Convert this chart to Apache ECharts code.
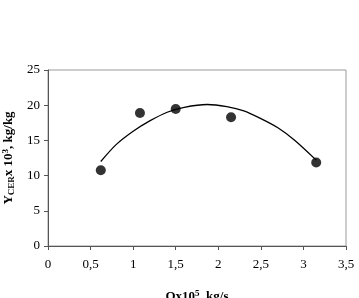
<!DOCTYPE html>
<html><head><meta charset="utf-8">
<script src="https://cdn.jsdelivr.net/npm/echarts@6/dist/echarts.min.js"></script>
<style>html,body{margin:0;padding:0;background:#fff}#c{width:359px;height:298px}</style>
</head><body><div id="c"></div>
<script>
// Measured points
const pointsX = [0.62, 1.08, 1.50, 2.15, 3.15];
const pointsY = [10.75, 18.9, 19.45, 18.3, 11.85];
// Trend curve
const curveX = [0.62, 0.8, 1.0, 1.2, 1.4, 1.6, 1.87, 2.1, 2.3, 2.5, 2.7, 2.9, 3.15];
const curveY = [12.0, 14.4, 16.3, 17.8, 19.0, 19.7, 20.1, 19.8, 19.2, 18.1, 16.8, 15.0, 12.2];
const xTicks = [0, 0.5, 1, 1.5, 2, 2.5, 3, 3.5];
const yTicks = [0, 5, 10, 15, 20, 25];

const font = '"Liberation Serif", "Times New Roman", serif';
const chart = echarts.init(document.getElementById('c'), null, {renderer: 'canvas'});
chart.setOption({
  animation: false,
  backgroundColor: '#fff',
  grid: {left: 48, right: 13, top: 70, bottom: 52, show: true, borderColor: '#9a9a9a', borderWidth: 1,
         containLabel: false, outerBoundsMode: 'none'},
  xAxis: {
    type: 'value', min: xTicks[0], max: xTicks[xTicks.length - 1], interval: 0.5,
    axisLine: {show: true, onZero: false, lineStyle: {color: '#555', width: 1}},
    axisTick: {show: true, inside: false, length: 4, lineStyle: {color: '#555'}},
    splitLine: {show: false},
    axisLabel: {fontFamily: font, fontSize: 13, color: '#000', margin: 12,
      formatter: v => String(v).replace('.', ',')},
    name: '{b|Qx10}{sup|5}{b|, kg/s}',
    nameLocation: 'middle', nameGap: 43,
    nameTextStyle: {rich: {
      b: {fontFamily: font, fontSize: 13, fontWeight: 'bold', color: '#000'},
      sup: {fontFamily: font, fontSize: 9, fontWeight: 'bold', color: '#000', verticalAlign: 'top', padding: [0,0,6,0]}
    }}
  },
  yAxis: {
    type: 'value', min: yTicks[0], max: yTicks[yTicks.length - 1], interval: 5,
    axisLine: {show: true, lineStyle: {color: '#555', width: 1}},
    axisTick: {show: true, inside: false, length: 4, lineStyle: {color: '#555'}},
    splitLine: {show: false},
    axisLabel: {fontFamily: font, fontSize: 13, color: '#000', margin: 8},
    name: '{b|Y}{sub|CER}{b|x 10}{sup|3}{b|, kg/kg}',
    nameLocation: 'middle', nameGap: 31, nameRotate: 90,
    nameTextStyle: {rich: {
      b: {fontFamily: font, fontSize: 13, fontWeight: 'bold', color: '#000'},
      sub: {fontFamily: font, fontSize: 9, fontWeight: 'bold', color: '#000', padding: [6,0,0,0]},
      sup: {fontFamily: font, fontSize: 9, fontWeight: 'bold', color: '#000', padding: [0,0,6,0]}
    }}
  },
  series: [
    {type: 'line', data: curveX.map((x, i) => [x, curveY[i]]), smooth: 0.3, symbol: 'none',
     lineStyle: {color: '#000', width: 1.3}, z: 2},
    {type: 'scatter', data: pointsX.map((x, i) => [x, pointsY[i]]), symbol: 'circle', symbolSize: 10,
     itemStyle: {color: '#000'}, z: 3}
  ]
});
</script></body></html>
